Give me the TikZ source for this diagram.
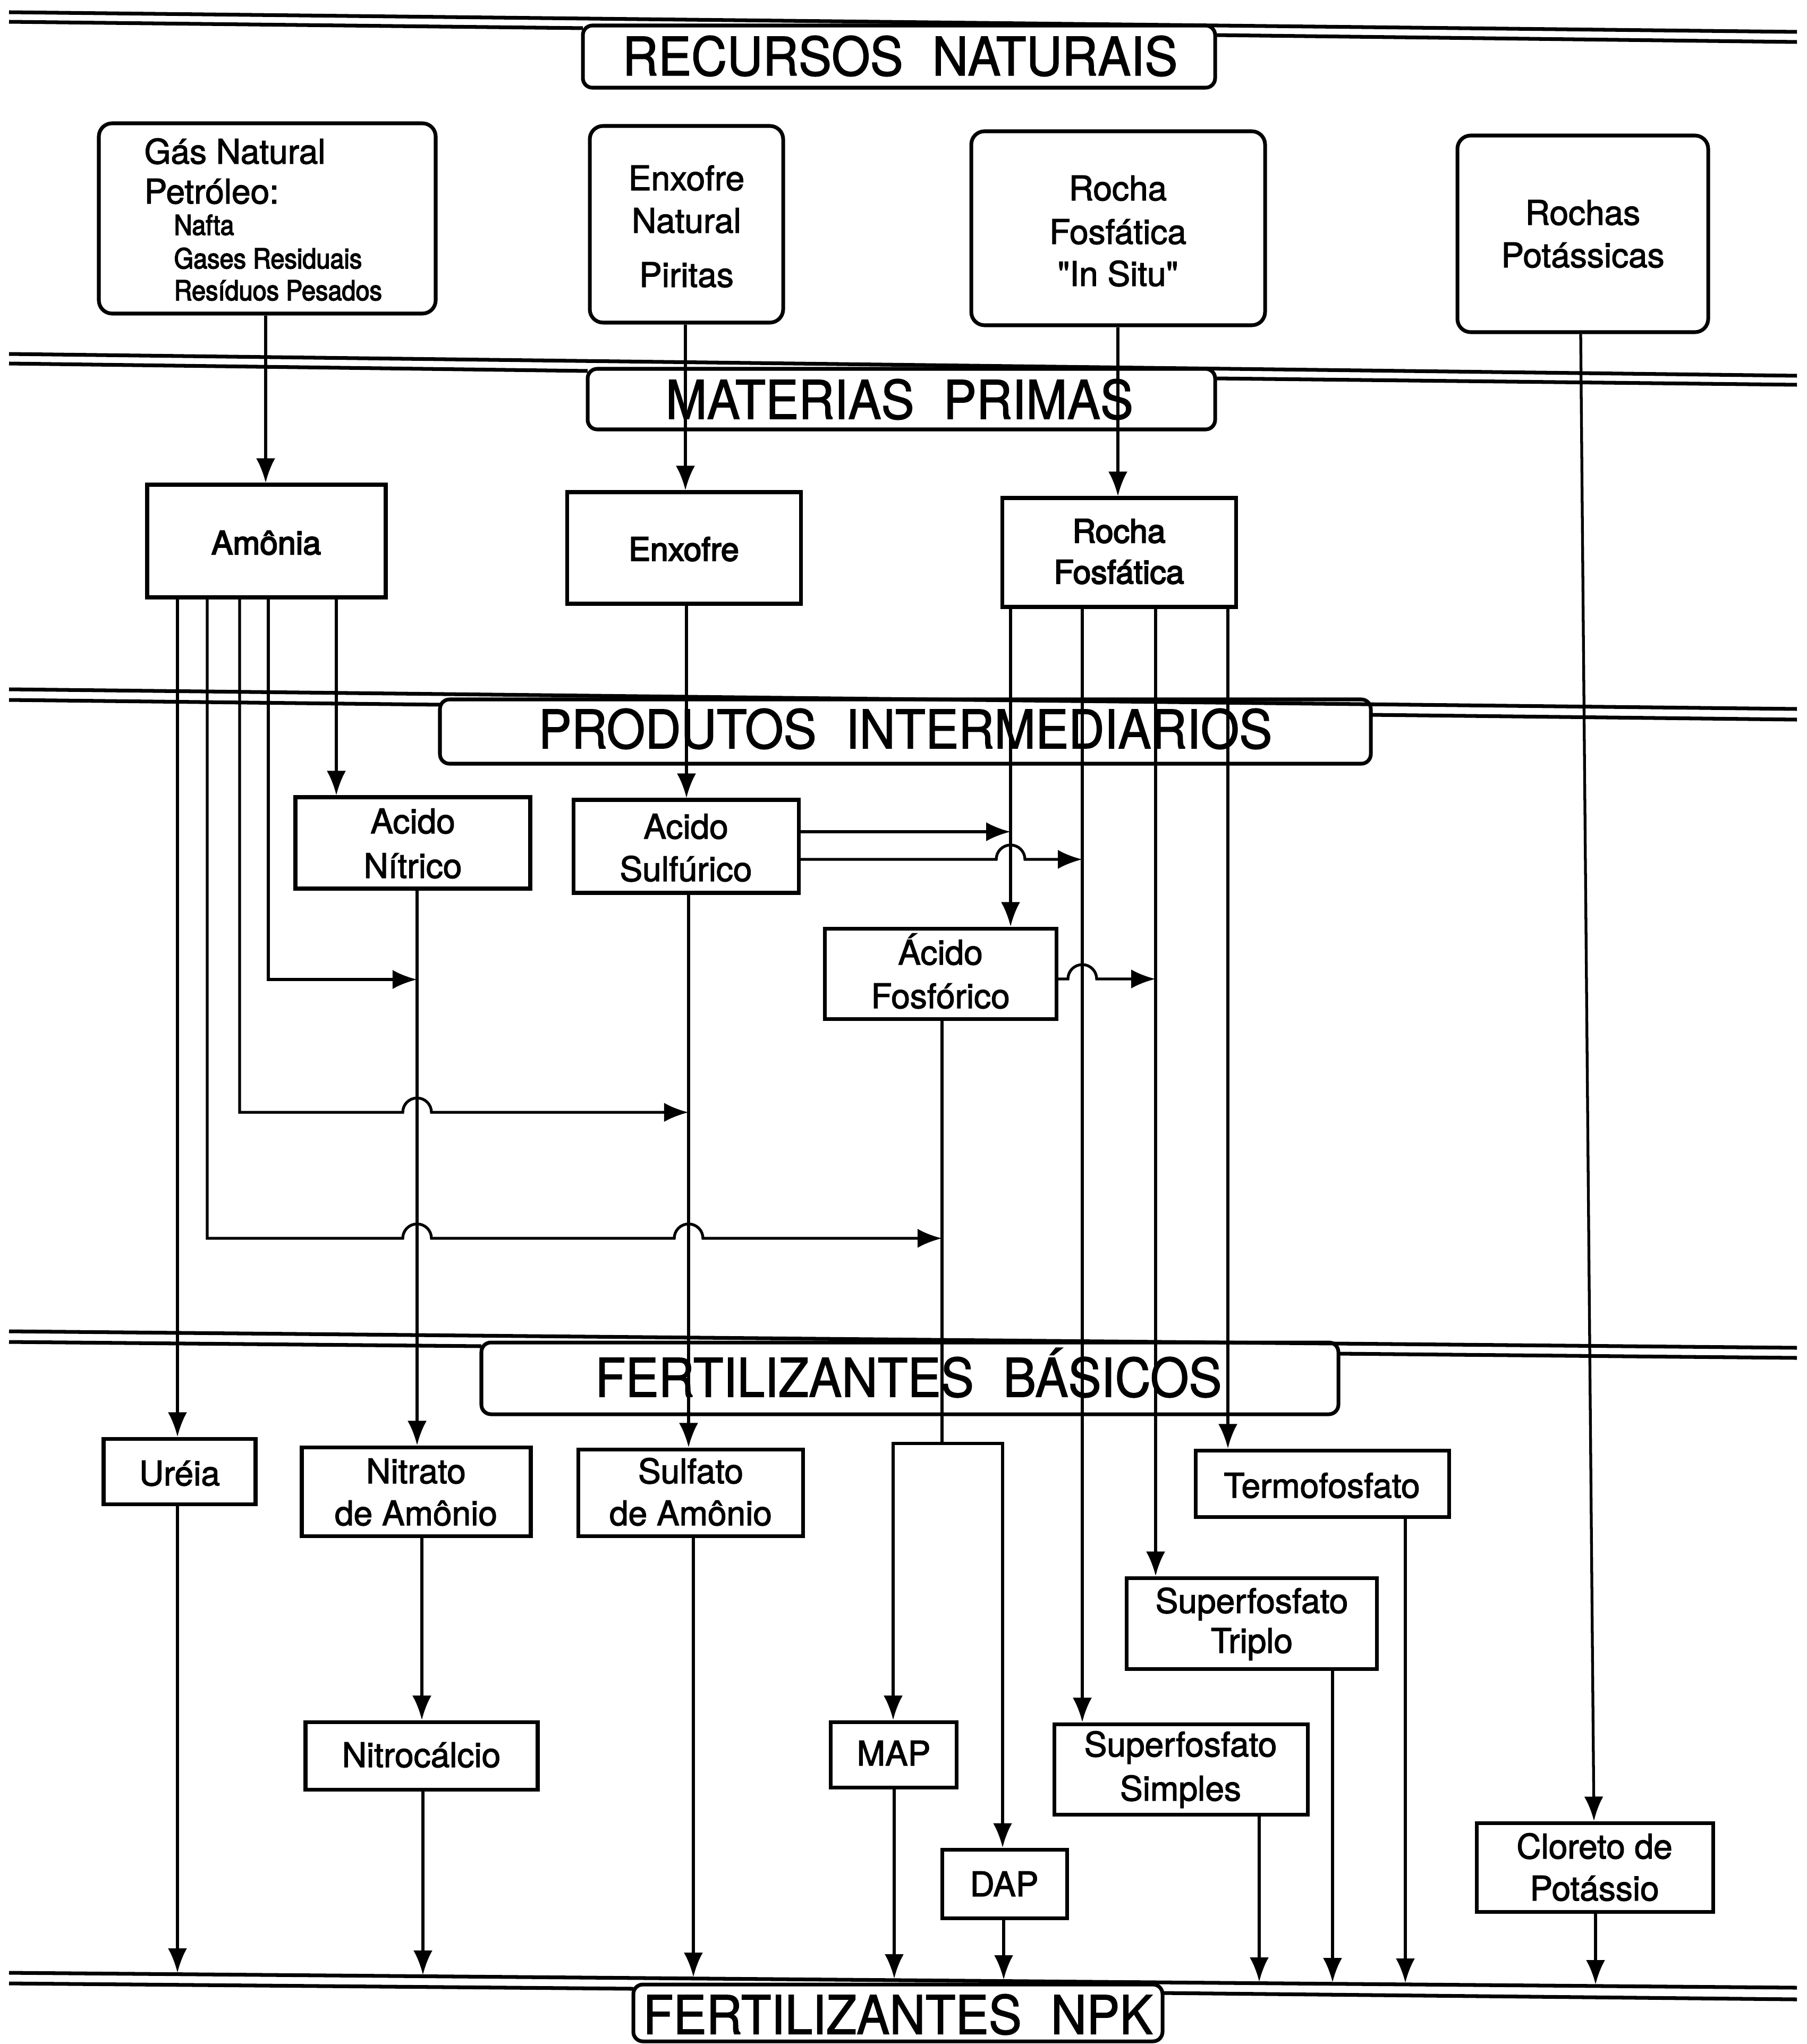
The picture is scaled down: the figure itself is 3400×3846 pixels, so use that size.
\documentclass[tikz,border=0pt]{standalone}
\usepackage{fontspec}
\setmainfont{TeX Gyre Heros}[FakeBold=2]
\newfontfamily\hdrfont{TeX Gyre Heros}[FakeStretch=0.93, FakeBold=1.5]
\newfontfamily\smfont{TeX Gyre Heros}[FakeStretch=0.9, FakeBold=3]
\newfontfamily\mpfont{TeX Gyre Heros}[FakeBold=3.5]
\newfontfamily\nqfont{TeX Gyre Heros}[Ligatures=TeXOff, FakeBold=2]
\usetikzlibrary{arrows.meta,fit}
\newcommand\hdrsize{\hdrfont\fontsize{28.5pt}{30pt}\selectfont}
\newcommand\bxsize{\fontsize{18.2pt}{20pt}\selectfont}
\newcommand\mpsize{\mpfont\fontsize{17.3pt}{19pt}\selectfont}
\newcommand\smsize{\smfont\fontsize{14.8pt}{16pt}\selectfont}
\begin{document}
\begin{tikzpicture}[x=0.01cm,y=-0.01cm,
  rbox/.style={draw, line width=2pt, rounded corners=0.25cm, inner sep=0pt},
  sbox/.style={draw, line width=2pt, inner sep=0pt},
  band/.style={draw, line width=2pt, rounded corners=0.18cm, inner sep=0pt},
  bline/.style={line width=2pt},
  conn/.style={line width=1.5pt},
  arr/.style={conn, -{Latex[length=0.46cm,width=0.36cm]}},
  txt/.style={inner sep=0pt, anchor=base}]
\fill[white] (0,0) rectangle (3400,3846);

% ---------- bands ----------
\node[band, fit={(1097,48) (2287,165)}] (b1) {};
\draw[bline] (17,23) -- (3382,60);
\draw[bline] (17,41) -- (1097,53);
\draw[bline] (2287,66) -- (3382,79);
\node[txt, font=\hdrsize] (h1) at (1694,142) {RECURSOS\hspace{0.55em}NATURAIS};

\node[band, fit={(1106,694) (2287,808)}] (b2) {};
\draw[bline] (17,666) -- (3382,707);
\draw[bline] (17,684) -- (1106,698);
\draw[bline] (2287,712) -- (3382,724);
\node[txt, font=\hdrsize] (h2) at (1693,788) {MATERIAS\hspace{0.55em}PRIMAS};

\node[band, fit={(828,1316) (2580,1437)}] (b3) {};
\draw[bline] (17,1297) -- (3382,1334);
\draw[bline] (17,1317) -- (828,1326);
\draw[bline] (2580,1345) -- (3382,1354);
\node[txt, font=\hdrsize] (h3) at (1704,1408) {PRODUTOS\hspace{0.55em}INTERMEDIARIOS};

\node[band, fit={(906,2526) (2519,2661)}] (b4) {};
\draw[bline] (17,2505) -- (3382,2536);
\draw[bline] (17,2525) -- (906,2533);
\draw[bline] (2519,2547) -- (3382,2555);
\node[txt, font=\hdrsize] (h4) at (1710,2628) {FERTILIZANTES\hspace{0.55em}BÁSICOS};

\node[band, fit={(1192,3734) (2188,3841)}] (b5) {};
\draw[bline] (17,3712) -- (3382,3740);
\draw[bline] (17,3732) -- (1192,3742);
\draw[bline] (2188,3750) -- (3382,3762);
\node[txt, font=\hdrsize] (h5) at (1690,3827) {FERTILIZANTES\hspace{0.55em}NPK};

% ---------- recursos naturais ----------
\node[rbox, fit={(186,232) (820,590)}] (gas) {};
\node[txt, anchor=base west, font=\bxsize] (g1) at (271,308) {Gás Natural};
\node[txt, anchor=base west, font=\bxsize] (g2) at (271,383) {Petróleo:};
\node[txt, anchor=base west, font=\smsize] (g3) at (327,442) {Nafta};
\node[txt, anchor=base west, font=\smsize] (g4) at (327,505) {Gases Residuais};
\node[txt, anchor=base west, font=\smsize] (g5) at (327,565) {Resíduos Pesados};

\node[rbox, fit={(1110,237) (1474,607)}] (enxn) {};
\node[txt, font=\bxsize] (en1) at (1292,358) {Enxofre};
\node[txt, font=\bxsize] (en2) at (1292,438) {Natural};
\node[txt, font=\bxsize] (en3) at (1292,540) {Piritas};

\node[rbox, fit={(1828,247) (2381,612)}] (insitu) {};
\node[txt, font=\bxsize] (is1) at (2104,377) {Rocha};
\node[txt, font=\bxsize] (is2) at (2104,459) {Fosfática};
\node[txt, font=\nqfont\bxsize] (is3) at (2104,538) {"In Situ"};

\node[rbox, fit={(2743,255) (3215,625)}] (rpot) {};
\node[txt, font=\bxsize] (rp1) at (2979,423) {Rochas};
\node[txt, font=\bxsize] (rp2) at (2979,503) {Potássicas};

% ---------- materias primas ----------
\node[sbox, fit={(277,912) (726,1124)}] (amonia) {};
\node[txt, font=\mpsize] (am1) at (501,1043) {Amônia};
\node[sbox, fit={(1067,926) (1507,1136)}] (enxofre) {};
\node[txt, font=\mpsize] (ex1) at (1287,1055) {Enxofre};
\node[sbox, fit={(1886,937) (2326,1142)}] (rochaf) {};
\node[txt, font=\mpsize] (rf1) at (2106,1021) {Rocha};
\node[txt, font=\mpsize] (rf2) at (2106,1098) {Fosfática};

% ---------- intermediarios ----------
\node[sbox, fit={(556,1500) (998,1672)}] (nitrico) {};
\node[txt, font=\bxsize] (ni1) at (777,1568) {Acido};
\node[txt, font=\bxsize] (ni2) at (777,1652) {Nítrico};
\node[sbox, fit={(1079,1505) (1503,1680)}] (sulfurico) {};
\node[txt, font=\bxsize] (su1) at (1291,1578) {Acido};
\node[txt, font=\bxsize] (su2) at (1291,1658) {Sulfúrico};
\node[sbox, fit={(1552,1747) (1988,1917)}] (fosforico) {};
\node[txt, font=\bxsize] (fo1) at (1770,1815) {Ácido};
\node[txt, font=\bxsize] (fo2) at (1770,1897) {Fosfórico};

% ---------- basicos ----------
\node[sbox, fit={(195,2707) (481,2830)}] (ureia) {};
\node[txt, font=\bxsize] (ur1) at (338,2795) {Uréia};
\node[sbox, fit={(568,2723) (999,2890)}] (nitrato) {};
\node[txt, font=\bxsize] (na1) at (783,2791) {Nitrato};
\node[txt, font=\bxsize] (na2) at (783,2870) {de Amônio};
\node[sbox, fit={(1088,2727) (1511,2890)}] (sulfato) {};
\node[txt, font=\bxsize] (sa1) at (1300,2791) {Sulfato};
\node[txt, font=\bxsize] (sa2) at (1300,2870) {de Amônio};
\node[sbox, fit={(2250,2729) (2727,2854)}] (termo) {};
\node[txt, font=\bxsize] (tf1) at (2488,2818) {Termofosfato};
\node[sbox, fit={(2120,2969) (2591,3140)}] (triplo) {};
\node[txt, font=\bxsize] (st1) at (2356,3035) {Superfosfato};
\node[txt, font=\bxsize] (st2) at (2356,3110) {Triplo};
\node[sbox, fit={(575,3240) (1012,3367)}] (nitrocalcio) {};
\node[txt, font=\bxsize] (nc1) at (793,3325) {Nitrocálcio};
\node[sbox, fit={(1563,3240) (1800,3363)}] (map) {};
\node[txt, font=\bxsize] (mp1) at (1682,3322) {MAP};
\node[sbox, fit={(1984,3244) (2461,3414)}] (simples) {};
\node[txt, font=\bxsize] (ss1) at (2222,3305) {Superfosfato};
\node[txt, font=\bxsize] (ss2) at (2222,3388) {Simples};
\node[sbox, fit={(1773,3480) (2008,3609)}] (dap) {};
\node[txt, font=\bxsize] (dp1) at (1890,3568) {DAP};
\node[sbox, fit={(2779,3430) (3224,3597)}] (cloreto) {};
\node[txt, font=\bxsize] (cl1) at (3001,3497) {Cloreto de};
\node[txt, font=\bxsize] (cl2) at (3001,3576) {Potássio};

% ---------- x positions ----------
\coordinate (xGA) at (500,0);
\coordinate (xEN) at (1290,0);
\coordinate (xRF) at (2104,0);
\coordinate (xRPa) at (2975,0);
\coordinate (xRPb) at (3000,0);
\coordinate (xU) at (334,0);
\coordinate (xF3) at (390,0);
\coordinate (xS2) at (451,0);
\coordinate (xN1) at (505,0);
\coordinate (xNi) at (633,0);
\coordinate (xNN) at (785,0);
\coordinate (xES) at (1292,0);
\coordinate (xSS) at (1296,0);
\coordinate (xR1) at (1902,0);
\coordinate (xR2) at (2037,0);
\coordinate (xR3) at (2175,0);
\coordinate (xR4) at (2311,0);
\coordinate (xMAP) at (1681,0);
\coordinate (xDAP) at (1887,0);
\coordinate (xNC) at (794,0);
\coordinate (yS1) at (0,1565);
\coordinate (yS2) at (0,1617);
\coordinate (yF) at (0,1842);

% ---------- connectors ----------
\draw[arr] (gas.south -| xGA) -- (amonia.north -| xGA);
\draw[arr] (enxn.south -| xEN) -- (enxofre.north -| xEN);
\draw[arr] (insitu.south -| xRF) -- (rochaf.north -| xRF);
\draw[arr] (rpot.south -| xRPa) -- (cloreto.north -| xRPb);

\draw[arr] (amonia.south -| xU) -- (ureia.north -| xU);
\draw[arr] (amonia.south -| xNi) -- (nitrico.north -| xNi);
\coordinate (j1) at (785,1843);
\draw[arr] (amonia.south -| xN1) |- (j1);
\coordinate (j2) at (1296,2093);
\draw[arr] (amonia.south -| xS2) |- (758,2093)
  arc[start angle=180, end angle=0, radius=0.27cm] -- (j2);
\coordinate (j3) at (1773,2330);
\draw[arr] (amonia.south -| xF3) |- (758,2330)
  arc[start angle=180, end angle=0, radius=0.27cm] -- (1269,2330)
  arc[start angle=180, end angle=0, radius=0.27cm] -- (j3);

\draw[arr] (nitrico.south -| xNN) -- (nitrato.north -| xNN);
\draw[arr] (enxofre.south -| xES) -- (sulfurico.north -| xES);
\draw[arr] (sulfurico.south -| xSS) -- (sulfato.north -| xSS);

\draw[arr] (sulfurico.east |- yS1) -- (xR1 |- yS1);
\draw[arr] (sulfurico.east |- yS2) -- (1875,1617)
  arc[start angle=180, end angle=0, radius=0.27cm] -- (xR2 |- yS2);

\draw[arr] (rochaf.south -| xR1) -- (fosforico.north -| xR1);
\draw[arr] (rochaf.south -| xR2) -- (simples.north -| xR2);
\draw[arr] (rochaf.south -| xR3) -- (triplo.north -| xR3);
\draw[arr] (rochaf.south -| xR4) -- (termo.north -| xR4);

\draw[arr] (fosforico.east |- yF) -- (2010,1842)
  arc[start angle=180, end angle=0, radius=0.27cm] -- (xR3 |- yF);

\coordinate (fb) at (1773,2716);
\draw[conn] (fosforico.south -| fb) -- (fb);
\draw[arr] (fb) -| (map.north -| xMAP);
\draw[arr] (fb) -| (dap.north -| xDAP);
\draw[arr] (nitrato.south -| xNC) -- (nitrocalcio.north -| xNC);

% ---------- to NPK ----------
\coordinate (e1) at (334,3712);
\coordinate (e2) at (796,3716);
\coordinate (e3) at (1305,3720);
\coordinate (e4) at (1683,3723);
\coordinate (e5) at (1889,3725);
\coordinate (e6) at (2370,3729);
\coordinate (e7) at (2508,3730);
\coordinate (e8) at (2645,3731);
\coordinate (e9) at (3003,3734);
\draw[arr] (ureia.south -| e1) -- (e1);
\draw[arr] (nitrocalcio.south -| e2) -- (e2);
\draw[arr] (sulfato.south -| e3) -- (e3);
\draw[arr] (map.south -| e4) -- (e4);
\draw[arr] (dap.south -| e5) -- (e5);
\draw[arr] (simples.south -| e6) -- (e6);
\draw[arr] (triplo.south -| e7) -- (e7);
\draw[arr] (termo.south -| e8) -- (e8);
\draw[arr] (cloreto.south -| e9) -- (e9);
\end{tikzpicture}
\end{document}
